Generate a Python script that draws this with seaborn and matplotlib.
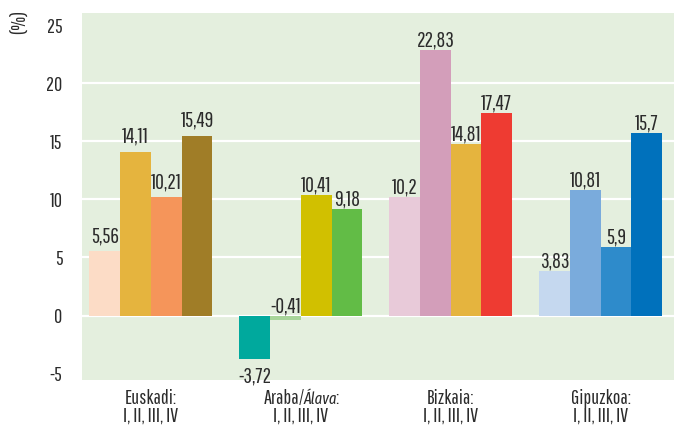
import pandas as pd
import matplotlib
matplotlib.use("Agg")
import matplotlib.pyplot as plt
import seaborn as sns

# datos: variación (%) por trimestre I-IV
regions = ["Euskadi", "Araba", "Bizkaia", "Gipuzkoa"]
line1 = ["Euskadi:", None, "Bizkaia:", "Gipuzkoa:"]
line2 = "I, II, III, IV"
quarters = ["I", "II", "III", "IV"]
euskadi = [5.56, 14.11, 10.21, 15.49]
araba = [-3.72, -0.41, 10.41, 9.18]
bizkaia = [10.2, 22.83, 14.81, 17.47]
gipuzkoa = [3.83, 10.81, 5.9, 15.7]

euskadi_colors = ["#FCDCC6", "#E5B43E", "#F5955A", "#A07D27"]
araba_colors = ["#00A99D", "#A8D59A", "#D1C000", "#62BC46"]
bizkaia_colors = ["#E8CAD9", "#D39EBA", "#E5B43E", "#EE3B32"]
gipuzkoa_colors = ["#C5D8EF", "#7AABDC", "#2E8BCB", "#0071BC"]

values = [euskadi, araba, bizkaia, gipuzkoa]
colors = [euskadi_colors, araba_colors, bizkaia_colors, gipuzkoa_colors]

rows = []
for r, vals in zip(regions, values):
    for q, v in zip(quarters, vals):
        rows.append({"region": r, "quarter": q, "value": v})
df = pd.DataFrame(rows)

sns.set_style("white")
font = "Pathway Gothic One"
ital = ["Fira Sans Extra Condensed", "Roboto Condensed", "DejaVu Sans"]
plt.rcParams["font.family"] = [font, "DejaVu Sans"]
plt.rcParams["axes.unicode_minus"] = False
txt_color = "#2b2b2b"
fs = 15.5      # etiquetas de valores
fs_ax = 14.5   # ejes
px = 72 / 100  # pixel -> point

fig = plt.figure(figsize=(6.74, 4.28), dpi=100)
ax = fig.add_axes([82 / 674, 48 / 428, 592 / 674, 367 / 428])
ax.set_facecolor("#E4EFDE")

sns.barplot(data=df, x="region", y="value", hue="quarter", order=regions,
            hue_order=quarters, width=0.82, saturation=1, legend=False, ax=ax)

for i, cont in enumerate(ax.containers):
    for j, bar in enumerate(cont):
        bar.set_facecolor(colors[j][i])
        bar.set_edgecolor("none")
        bar.set_zorder(3)
        v = values[j][i]
        xc = bar.get_x() + bar.get_width() / 2
        lab = f"{v:g}".replace(".", ",")
        pad = 9 if j == 0 else 3.5
        if v < -1:
            ax.annotate(lab, (xc, v), xytext=(0, -24 * px), textcoords="offset points",
                        ha="center", va="baseline", fontsize=fs, color=txt_color, zorder=2)
        else:
            ax.annotate(lab, (xc, max(v, 0)), xytext=(0, pad * px), textcoords="offset points",
                        ha="center", va="baseline", fontsize=fs, color=txt_color, zorder=2)

for g in [0, 5, 10, 15, 20]:
    ax.axhline(g, color="white", lw=1.6, zorder=1)

ax.set_ylim(-5.55, 26.05)
ax.set_xlim(-0.46, 3.49)
ax.set_yticks([-5, 0, 5, 10, 15, 20, 25])
ax.set_xticks(range(len(regions)))
ax.set_xticklabels([])
ax.tick_params(axis="y", length=0, pad=14, labelsize=fs_ax, labelcolor=txt_color)
ax.tick_params(axis="x", length=0)
ax.set_xlabel("")
ax.set_ylabel("")
for s in ax.spines.values():
    s.set_visible(False)

# etiquetas del eje x (dos líneas, "Álava" en cursiva)
tr = ax.get_xaxis_transform()
y1, y2 = -24 * px, -42 * px
for k, name in enumerate(line1):
    ax.annotate(line2, (k, 0), xycoords=tr, xytext=(0, y2), textcoords="offset points",
                ha="center", va="baseline", fontsize=fs_ax, color=txt_color)
    if name is not None:
        ax.annotate(name, (k, 0), xycoords=tr, xytext=(0, y1), textcoords="offset points",
                    ha="center", va="baseline", fontsize=fs_ax, color=txt_color)

k = regions.index("Araba")
parts = [("Araba/", {}), ("Álava", {"family": ital, "style": "italic", "fontsize": fs_ax - 3}), (":", {})]
texts = []
for s, kw in parts:
    opts = {"fontsize": fs_ax, "color": txt_color}
    opts.update(kw)
    texts.append(ax.annotate(s, (k, 0), xycoords=tr, xytext=(0, y1), textcoords="offset points",
                             ha="left", va="baseline", **opts))
fig.canvas.draw()
rend = fig.canvas.get_renderer()
widths = [t.get_window_extent(rend).width for t in texts]
widths[0] -= 1
widths[1] -= 2
x0 = -sum(widths) / 2
for t, w in zip(texts, widths):
    t.xyann = (x0 * px, y1)
    x0 += w

fig.text(19 / 674, 1 - 22 / 428, "(%)", rotation=90, ha="center", va="center",
         fontsize=fs_ax, color=txt_color)

fig.savefig("out.png", dpi=100)
